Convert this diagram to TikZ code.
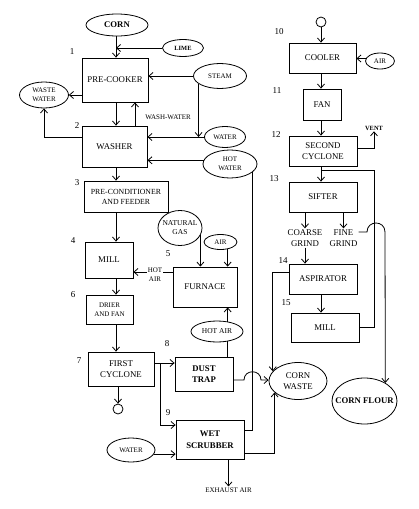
\documentclass[tikz,border=0pt]{standalone}
\usepackage{fontspec}
\setmainfont{Liberation Serif}
\usetikzlibrary{arrows.meta,shapes.geometric}
\newcommand\ftBox{\fontsize{8.8}{11}\selectfont}
\newcommand\ftPre{\fontsize{7.8}{10}\selectfont}
\newcommand\ftMid{\fontsize{7.5}{9}\selectfont}
\newcommand\ftSmall{\fontsize{7}{9}\selectfont}
\newcommand\ftTiny{\bfseries\fontsize{6.4}{8}\selectfont}
\newcommand\ftBold{\bfseries\fontsize{8.7}{11.5}\selectfont}
\newcommand\ftNum{\fontsize{9}{10}\selectfont}
\tikzset{
  ln/.style={line width=0.8pt},
  arr/.style={line width=0.8pt,-{Straight Barb[length=4pt,width=7pt]}},
  box/.style 2 args={draw,rectangle,line width=0.8pt,inner sep=1pt,align=center,font=\ftBox,minimum width=#1,minimum height=#2},
  ov/.style 2 args={draw,ellipse,line width=0.8pt,inner sep=0pt,minimum width=#1,minimum height=#2},
  lab/.style={align=center,inner sep=0pt},
  num/.style={font=\ftNum,inner sep=0pt},
  tag/.style={align=center,inner sep=1pt,font=\ftSmall}
}
\begin{document}
\begin{tikzpicture}[x=1pt,y=-1pt]
\fill[white] (0,0) rectangle (418,509);
\useasboundingbox (0,0) rectangle (418,509);

\coordinate (colL) at (116,0);
\coordinate (colR) at (321,0);
\coordinate (hop1) at (244,380);
\coordinate (hop2) at (367,232);
\coordinate (ret) at (374,170);

% boxes, left
\node[box={66}{44}] (precooker) at (115,80) {PRE-COOKER};
\node[box={65}{41}] (washer) at (114.5,146.5) {WASHER};
\node[box={84}{31},font=\ftPre] (precond) at (126,196.5) {PRE-CONDITIONER\\AND FEEDER};
\node[box={48}{36}] (mill) at (109,260) {MILL};
\node[box={64}{40}] (furnace) at (205,287) {FURNACE};
\node[box={47}{29},font=\ftSmall] (drier) at (109.5,309.5) {DRIER\\AND FAN};
\node[box={66}{34}] (firstcyc) at (121,369) {FIRST\\CYCLONE};
\node[box={58}{34},font=\ftBold] (dusttrap) at (204,374) {DUST\\TRAP};
\node[box={68}{39},font=\ftBold] (wetscrub) at (210,439.5) {WET\\SCRUBBER};

% boxes, right
\node[box={67}{30}] (cooler) at (322.5,58) {COOLER};
\node[box={38}{31}] (fan) at (322,104.5) {FAN};
\node[box={68}{30}] (secondcyc) at (323,151) {SECOND\\CYCLONE};
\node[box={68}{30}] (sifter) at (323,197) {SIFTER};
\node[box={68}{30}] (aspirator) at (323,279) {ASPIRATOR};
\node[box={68}{29}] (mill2) at (325,327.5) {MILL};

% ellipses
\node[ov={62}{22},label={[lab,font=\ftBold]center:CORN}] (corn) at (117,25) {};
\node[ov={41}{17},label={[lab,font=\ftTiny]center:LIME}] (lime) at (183,48) {};
\node[ov={49}{26},label={[lab,font=\ftSmall]center:WASTE\\WATER}] (wastewater) at (44,95) {};
\node[ov={53}{25},label={[lab,font=\ftSmall]center:STEAM}] (steam) at (220,76) {};
\node[ov={41}{21},label={[lab,font=\ftSmall]center:WATER}] (water) at (225,137) {};
\node[ov={54}{28},label={[lab,font=\ftSmall]center:HOT\\WATER}] (hotwater) at (230,164) {};
\node[ov={44}{35},label={[lab,font=\ftMid]center:NATURAL\\GAS}] (gas) at (180,228) {};
\node[ov={33}{15},label={[lab,font=\ftSmall]center:AIR}] (air) at (220.5,242) {};
\node[ov={52}{21},label={[lab,font=\ftMid]center:HOT AIR}] (hotair) at (217,331.5) {};
\node[ov={48}{24},label={[lab,font=\ftSmall]center:WATER}] (water2) at (131,450) {};
\node[ov={29}{16},label={[lab,font=\ftSmall]center:AIR}] (air2) at (380,61) {};
\node[ov={58}{37},label={[lab,font=\ftBox]center:CORN\\WASTE}] (cornwaste) at (298,381) {};
\node[ov={65}{46},label={[lab,font=\ftBold]center:CORN FLOUR}] (cornflour) at (364.5,401) {};
\node[circle,draw,ln,minimum size=10pt,inner sep=0pt] (sink1) at (118,409) {};
\node[circle,draw,ln,minimum size=10pt,inner sep=0pt] (src2) at (321,22) {};

% text tags
\node[tag] (washwater) at (168,117) {WASH-WATER};
\node[tag] (exhaust) at (228.5,490) {EXHAUST AIR};
\node[tag,font=\ftTiny] (vent) at (374,128) {VENT};
\node[tag,font=\ftBox] (coarse) at (305,238) {COARSE\\GRIND};
\node[tag,font=\ftBox] (fine) at (343.5,238) {FINE\\GRIND};

% numbers
\node[num] (n1) at (72,52) {1};
\node[num] (n2) at (77,126) {2};
\node[num] (n3) at (77,183) {3};
\node[num] (n4) at (73,241) {4};
\node[num] (n5) at (168,254) {5};
\node[num] (n6) at (73,295) {6};
\node[num] (n7) at (79,361) {7};
\node[num] (n8) at (167,344) {8};
\node[num] (n9) at (168,413) {9};
\node[num] (n10) at (279,32) {10};
\node[num] (n11) at (277,91) {11};
\node[num] (n12) at (276,135) {12};
\node[num] (n13) at (274,179) {13};
\node[num] (n14) at (283,261) {14};
\node[num] (n15) at (286,303) {15};

% connectors, left
\draw[arr] (corn.south -| colL) -- (precooker.north -| colL);
\draw[arr] (lime.west) -- (lime.west -| colL);
\draw[arr] (steam.west) -- (steam.west -| precooker.east);
\draw[arr] (steam.200) -- (steam.200 |- water.west);
\draw[arr] (water.west) -- (water.west -| washer.east);
\draw[arr] (hotwater.172) -- (hotwater.172 -| washer.east);
\draw[ln] (hotwater.340) |- ([yshift=9.5pt]wetscrub.east);
\draw[arr] (precooker.west |- wastewater.east) -- (wastewater.east);
\draw[arr] ([yshift=9pt]washer.west) -| (wastewater.south);
\draw[arr] (precooker.south -| colL) -- (washer.north -| colL);
\draw[arr] ([xshift=20.5pt]washer.north) -- ([xshift=20.5pt]washer.north |- precooker.south);
\draw[arr] (washer.south -| colL) -- (precond.north -| colL);
\draw[arr] (precond.south -| colL) -- (mill.north -| colL);
\draw[arr] (mill.south -| colL) -- (drier.north -| colL);
\draw[arr] (drier.south -| colL) -- (firstcyc.north -| colL);
\draw[arr] (firstcyc.south -| sink1) -- (sink1.north);
\draw[arr] (gas.340) -- (gas.340 |- furnace.north);
\draw[arr] (air.315) -- (air.315 |- furnace.north);
\draw[arr] (hotair.43) -- (hotair.43 |- furnace.south);
\draw[ln] (hotair.317) -- (hotair.317 |- dusttrap.north);
\draw[arr] ([yshift=15pt]furnace.west) -- ([yshift=15pt]furnace.west -| mill.east);
\node[tag,fill=white] (hotairlab) at (155,275) {HOT\\AIR};
\draw[arr] ([yshift=6pt]firstcyc.east) -- ([yshift=6pt]firstcyc.east -| dusttrap.west);
\draw[arr] ([xshift=6pt,yshift=6pt]firstcyc.east) |- ([yshift=14.5pt]wetscrub.west);
\draw[arr] (water2.350) -- (water2.350 -| wetscrub.west);
\draw[arr] (wetscrub.south -| exhaust.north) -- (exhaust.north);
\draw[arr] ([yshift=-13.5pt]wetscrub.east) -| (cornwaste.206);
\draw[arr] ([yshift=7pt]aspirator.west) -| (cornwaste.159);
\draw[arr] ([yshift=-6pt]dusttrap.east) -- (hop1)
  .. controls ([yshift=11pt]hop1) and ([xshift=17pt,yshift=11pt]hop1) .. ([xshift=17pt]hop1)
  -- (hop1 -| cornwaste.west);

% connectors, right
\draw[arr] (src2.south) -- (cooler.north -| src2);
\draw[arr] (air2.170) -- (air2.170 -| cooler.east);
\draw[arr] (cooler.south -| colR) -- (fan.north -| colR);
\draw[arr] (fan.south -| colR) -- (secondcyc.north -| colR);
\draw[arr] (secondcyc.south -| colR) -- (sifter.north -| colR);
\draw[arr] ([yshift=3pt]secondcyc.east) -| (vent.south);
\draw[ln] (mill2.east) -| (ret) -- (ret -| colR);
\draw[arr] (sifter.south -| coarse.north) -- (coarse.north);
\draw[arr] (sifter.south -| fine.north) -- (fine.north);
\draw[arr] (coarse.south) -- (coarse.south |- aspirator.north);
\draw[arr] (aspirator.south -| colR) -- (mill2.north -| colR);
\draw[arr] ([yshift=6pt]fine.east) -- (hop2)
  .. controls ([yshift=12pt]hop2) and ([xshift=18pt,yshift=12pt]hop2) .. ([xshift=18pt]hop2)
  -- (cornflour.41);
\end{tikzpicture}
\end{document}
